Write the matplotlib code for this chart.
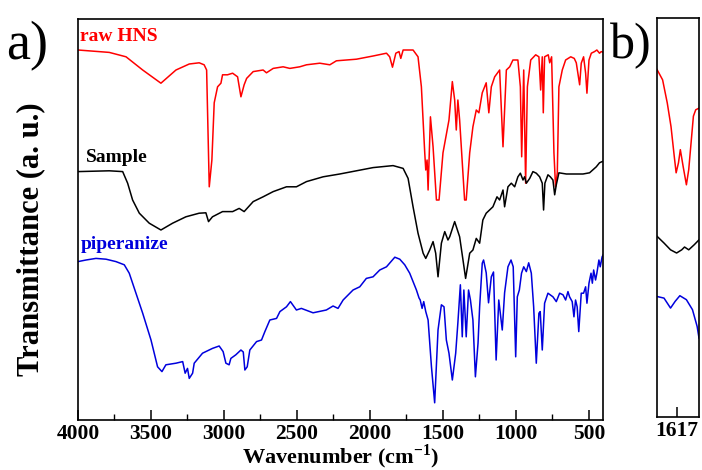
import matplotlib
matplotlib.use("Agg")
from matplotlib import pyplot as plt
from matplotlib.ticker import FixedLocator, MultipleLocator

plt.rcParams['font.family'] = ['Liberation Serif', 'DejaVu Serif']
plt.rcParams['mathtext.fontset'] = 'custom'
plt.rcParams['mathtext.rm'] = 'Liberation Serif'
plt.rcParams['mathtext.bf'] = 'Liberation Serif:bold'

# FTIR spectra, offset for display (arbitrary units)
hns_wn = [4000, 3786, 3671, 3557, 3432, 3329, 3238, 3170, 3136, 3119, 3101, 3083, 3067,
          3044, 3021, 3010, 2976, 2941, 2907, 2884, 2862, 2845, 2800, 2732, 2709, 2663,
          2595, 2549, 2481, 2435, 2344, 2275, 2230, 2093, 1979, 1887, 1865, 1846, 1823,
          1801, 1789, 1773, 1705, 1671, 1648, 1625, 1618, 1609, 1602, 1586, 1568, 1545,
          1527, 1500, 1459, 1436, 1420, 1409, 1398, 1386, 1352, 1341, 1317, 1295, 1272,
          1254, 1231, 1204, 1186, 1169, 1146, 1112, 1089, 1066, 1043, 1021, 987, 970,
          961, 947, 934, 922, 899, 865, 843, 831, 820, 813, 804, 779, 769, 756, 740, 729,
          717, 706, 683, 660, 625, 601, 587, 564, 553, 537, 523, 514, 500, 484, 462, 446,
          428, 416, 400]
hns_t = [93.0, 92.4, 91.3, 88.0, 84.7, 88.0, 89.5, 89.8, 89.3, 88.0, 58.8, 65.5, 79.8,
         83.8, 84.7, 86.8, 86.8, 87.2, 86.3, 81.3, 84.3, 85.9, 87.6, 88.0, 87.3, 88.4,
         88.8, 88.4, 88.8, 89.3, 89.7, 89.3, 90.3, 90.7, 91.5, 92.2, 91.3, 88.7, 92.2,
         92.6, 90.9, 93.0, 93.0, 91.3, 83.8, 67.3, 63.0, 65.5, 58.0, 76.3, 68.8, 55.5,
         55.5, 67.3, 75.5, 85.1, 80.5, 73.0, 80.5, 75.5, 55.5, 55.5, 67.3, 73.8, 78.0,
         77.3, 82.3, 84.8, 77.3, 83.8, 86.3, 88.0, 68.8, 88.0, 88.8, 90.5, 90.5, 83.8,
         66.3, 88.0, 59.7, 83.8, 90.5, 91.8, 91.3, 83.0, 91.3, 77.3, 91.3, 91.8, 89.8,
         91.3, 67.3, 58.8, 62.3, 83.8, 88.0, 90.5, 91.3, 90.9, 89.8, 84.3, 89.7, 91.3,
         87.2, 82.2, 90.5, 92.2, 92.6, 93.0, 92.2, 92.6, 92.4]

sample_wn = [4000, 3786, 3694, 3660, 3626, 3580, 3512, 3432, 3352, 3261, 3170, 3124, 3106,
             3079, 3010, 2941, 2896, 2862, 2800, 2732, 2663, 2572, 2504, 2435, 2321, 2207,
             2093, 1979, 1842, 1773, 1739, 1705, 1671, 1636, 1618, 1591, 1568, 1550, 1534,
             1511, 1488, 1466, 1454, 1420, 1386, 1363, 1345, 1317, 1295, 1272, 1249, 1227,
             1204, 1181, 1158, 1130, 1112, 1089, 1078, 1055, 1032, 1009, 987, 970, 952, 941,
             929, 906, 884, 861, 838, 820, 811, 802, 781, 765, 747, 735, 724, 706, 655, 541,
             496, 450, 428, 410, 400]
sample_t = [62.6, 62.8, 62.6, 59.7, 55.5, 52.2, 49.7, 48.0, 49.7, 51.3, 52.2, 52.3, 50.1,
            51.3, 52.6, 52.6, 53.4, 52.6, 55.1, 56.3, 57.6, 58.8, 58.8, 60.1, 61.3, 62.0,
            62.8, 63.6, 64.1, 63.4, 60.9, 53.8, 47.2, 42.2, 40.9, 43.0, 45.1, 42.2, 36.3,
            44.7, 47.6, 45.5, 46.3, 50.1, 46.3, 40.5, 35.9, 42.2, 43.0, 45.9, 44.7, 50.5,
            52.2, 53.0, 53.8, 56.3, 55.5, 58.0, 53.8, 58.8, 59.7, 58.8, 61.3, 62.2, 60.5,
            61.3, 59.7, 60.9, 62.6, 62.2, 61.3, 59.7, 53.0, 59.7, 61.8, 61.3, 60.5, 56.8,
            59.3, 62.3, 62.0, 62.0, 62.3, 63.8, 64.8, 65.1, 65.2]

pip_wn = [4000, 3945, 3877, 3808, 3740, 3683, 3649, 3603, 3557, 3500, 3455, 3425, 3398,
          3329, 3283, 3266, 3250, 3238, 3215, 3204, 3147, 3079, 3033, 3006, 2987, 2965,
          2953, 2919, 2884, 2868, 2857, 2841, 2823, 2777, 2743, 2720, 2686, 2640, 2617,
          2572, 2545, 2504, 2470, 2390, 2299, 2253, 2219, 2184, 2116, 2070, 2025, 1979,
          1933, 1887, 1830, 1796, 1762, 1728, 1682, 1664, 1656, 1643, 1632, 1618, 1602,
          1579, 1557, 1534, 1511, 1493, 1477, 1459, 1436, 1413, 1398, 1381, 1368, 1357,
          1341, 1325, 1312, 1295, 1278, 1260, 1249, 1231, 1222, 1204, 1188, 1169, 1154,
          1136, 1118, 1094, 1078, 1055, 1034, 1019, 1002, 991, 977, 962, 947, 929, 913,
          895, 879, 861, 843, 834, 820, 804, 781, 747, 724, 701, 678, 660, 644, 633, 615,
          603, 592, 581, 570, 553, 537, 523, 514, 500, 486, 477, 468, 455, 446, 432, 423,
          410, 400]
pip_t = [40.1, 40.5, 40.9, 40.7, 40.1, 39.3, 37.2, 32.2, 27.2, 20.5, 13.8, 12.6, 14.3,
         14.7, 15.1, 12.2, 13.4, 10.9, 12.2, 14.7, 17.2, 18.4, 19.0, 17.6, 14.7, 14.3,
         15.9, 16.8, 18.0, 17.5, 13.0, 13.8, 18.0, 20.1, 20.5, 22.6, 25.5, 25.9, 27.6,
         28.8, 30.1, 28.0, 28.4, 27.3, 28.0, 29.0, 28.4, 30.5, 33.0, 33.8, 35.9, 36.3,
         38.0, 38.8, 41.2, 40.7, 39.3, 37.2, 33.0, 31.0, 30.5, 28.4, 30.1, 27.6, 25.5,
         13.8, 4.8, 23.0, 29.3, 28.8, 20.5, 17.2, 10.5, 17.2, 24.8, 34.3, 21.3, 33.0,
         21.3, 33.0, 30.5, 25.5, 11.3, 19.7, 28.8, 39.7, 40.5, 37.3, 29.8, 36.3, 37.5,
         15.5, 30.5, 23.0, 32.3, 38.8, 40.5, 38.8, 16.3, 31.3, 33.0, 37.2, 38.8, 37.6, 39.8,
         37.2, 28.8, 14.7, 27.2, 27.6, 18.0, 29.7, 32.2, 31.3, 30.1, 32.2, 31.8, 30.5, 32.6,
         31.3, 30.1, 26.3, 30.5, 28.8, 22.6, 32.2, 32.2, 33.8, 29.7, 34.7, 37.2, 34.7, 38.0,
         35.5, 37.2, 40.5, 38.8, 41.3, 42.0]

# zoom around 1617 cm-1
zoom_wn_hns = [1660, 1648, 1638, 1630, 1623, 1619, 1614, 1610, 1604, 1597, 1592, 1587, 1582, 1577, 1570]
zoom_t_hns = [87.1, 84.5, 78.7, 72.8, 65.3, 61.2, 63.7, 67.0, 62.8, 58.2, 62.0, 68.7, 75.4, 77.0, 77.4]
zoom_wn_sample = [1660, 1645, 1631, 1618, 1607, 1601, 1592, 1580, 1570]
zoom_t_sample = [45.3, 43.6, 41.9, 41.1, 41.9, 42.6, 41.9, 43.2, 44.4]
zoom_wn_pip = [1660, 1645, 1631, 1621, 1611, 1597, 1584, 1574, 1570]
zoom_t_pip = [30.2, 29.8, 27.3, 29.0, 30.4, 29.4, 26.9, 22.7, 19.8]

RED = '#ff0000'
BLACK = '#000000'
BLUE = '#0000dd'

fig = plt.figure(figsize=(7.02, 4.70), dpi=100)
ax = fig.add_axes([78 / 702, (470 - 420) / 470, 525 / 702, 401 / 470])
axb = fig.add_axes([657 / 702, (470 - 417) / 470, 42 / 702, 399 / 470])

ax.plot(hns_wn, hns_t, color=RED, lw=1.1)
ax.plot(sample_wn, sample_t, color=BLACK, lw=1.1)
ax.plot(pip_wn, pip_t, color=BLUE, lw=1.1)
ax.set_xlim(4000, 404)
ax.set_ylim(0.5, 100.75)

ax.xaxis.set_major_locator(MultipleLocator(500))
ax.xaxis.set_minor_locator(MultipleLocator(250))
ax.tick_params(axis='x', which='major', direction='in', length=7, width=1.1,
               labelsize=15.5, pad=3, top=False)
ax.tick_params(axis='x', which='minor', direction='in', length=4, width=1.0, top=False)
ax.set_yticks([])
for lab in ax.get_xticklabels():
    lab.set_fontweight('bold')
for s in ax.spines.values():
    s.set_linewidth(1.2)

ax.set_xlabel(r'Wavenumber (cm$^{\mathbf{-1}}$)', fontsize=16, fontweight='bold', labelpad=-1)
ax.set_ylabel('Transmittance (a. u.)', fontsize=22, fontweight='bold')
ax.yaxis.set_label_coords(-0.063, 0.45)

ax.text(3986, 96.3, 'raw HNS', color=RED, fontsize=14,
        fontweight='bold', va='center', ha='left')
ax.text(3945, 66.0, 'Sample', color=BLACK, fontsize=14,
        fontweight='bold', va='center', ha='left')
ax.text(3979, 44.3, 'piperanize', color=BLUE, fontsize=14,
        fontweight='bold', va='center', ha='left')

axb.plot(zoom_wn_hns, zoom_t_hns, color=RED, lw=1.1)
axb.plot(zoom_wn_sample, zoom_t_sample, color=BLACK, lw=1.1)
axb.plot(zoom_wn_pip, zoom_t_pip, color=BLUE, lw=1.1)
axb.set_xlim(1660, 1570)
axb.set_ylim(0, 100)
axb.xaxis.set_major_locator(FixedLocator([1617]))
axb.tick_params(axis='x', which='major', direction='in', length=7, width=1.1,
                labelsize=15.5, pad=3, top=False)
axb.set_yticks([])
for lab in axb.get_xticklabels():
    lab.set_fontweight('bold')
for s in axb.spines.values():
    s.set_linewidth(1.2)

fig.text(6 / 702, 1 - 46 / 470, 'a)', fontsize=39, ha='left', va='center')
fig.text(610 / 702, 1 - 46 / 470, 'b)', fontsize=36, ha='left', va='center')

fig.savefig('out.png', dpi=100)
